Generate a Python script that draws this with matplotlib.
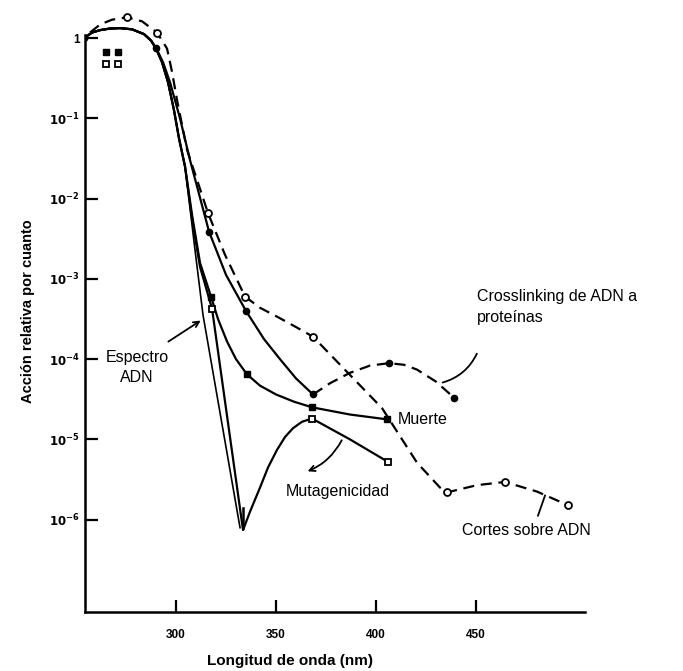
import numpy as np
import matplotlib.pyplot as plt

plt.rcParams['font.family'] = ['Liberation Sans', 'DejaVu Sans']

# Valores (x en nm, y como log10 de la acción relativa)
cortes_x = [257, 262, 268, 275.5, 283, 290.5, 295.5, 298, 300.5, 305.5, 316, 324.5, 334.5,
            342, 350.5, 360, 368.5, 403, 420.5, 432, 435.5, 450.5, 464.5, 480.5, 496]
cortes_y = [0.07, 0.17, 0.23, 0.26, 0.21, 0.07, -0.13, -0.42, -0.77, -1.39, -2.18, -2.7,
            -3.22, -3.36, -3.47, -3.6, -3.72, -4.61, -5.29, -5.6, -5.66, -5.57, -5.53,
            -5.65, -5.82]
cortes_mx = [275.5, 290.5, 316, 334.5, 368.5, 435.5, 464.5, 496]
cortes_my = [0.26, 0.07, -2.18, -3.22, -3.72, -5.66, -5.53, -5.82]

cross_x = [254, 258, 262, 267, 272, 278, 284, 287.5, 290, 293.5, 297, 302, 307, 316.5,
           325, 335, 344, 352, 360, 368.5]
cross_y = [0, 0.07, 0.1, 0.12, 0.125, 0.11, 0.05, -0.03, -0.12, -0.3, -0.55, -1.0, -1.52,
           -2.41, -2.95, -3.4, -3.75, -4.0, -4.24, -4.44]
cross_dx = [368.5, 377, 387, 397, 406.5, 414, 420.5, 430, 439]
cross_dy = [-4.44, -4.3, -4.17, -4.08, -4.05, -4.07, -4.13, -4.28, -4.48]
cross_mx = [254, 290, 316.5, 335, 368.5, 406.5, 439]
cross_my = [0, -0.12, -2.41, -3.4, -4.44, -4.05, -4.48]

top_x = [254, 258, 262, 267, 272, 278, 284, 287.5, 290, 293, 296, 299, 301.5, 304.5]
top_y = [0, 0.07, 0.1, 0.12, 0.125, 0.11, 0.05, -0.03, -0.13, -0.3, -0.55, -0.9, -1.25, -1.6]

muerte_x = top_x + [308, 312, 317.5, 321, 325.5, 330, 335.5, 342, 350, 359, 368, 387, 405.5]
muerte_y = top_y + [-2.2, -2.8, -3.22, -3.5, -3.78, -4.0, -4.19, -4.33, -4.44, -4.53,
                    -4.6, -4.69, -4.75]
muerte_mx = [265, 271, 317.5, 335.5, 368, 405.5]
muerte_my = [-0.17, -0.17, -3.22, -4.19, -4.6, -4.75]

muta_x = top_x + [308, 312, 318, 333.5, 337, 342, 346, 350.5, 354.5, 358.5, 363, 368, 387,
                  406]
muta_y = top_y + [-2.25, -2.85, -3.37, -6.13, -5.9, -5.6, -5.35, -5.13, -4.97, -4.86,
                  -4.78, -4.74, -5.0, -5.28]
muta_mx = [265, 271, 318, 368, 406]
muta_my = [-0.32, -0.32, -3.37, -4.74, -5.28]

espectro_x = top_x + [309.5, 313.5, 332]
espectro_y = top_y + [-2.64, -3.45, -6.1]

xticks = [300, 350, 400, 450]
yticks = [0, -1, -2, -3, -4, -5, -6]
ytick_labels = ['1', r'$\mathbf{10^{-1}}$', r'$\mathbf{10^{-2}}$', r'$\mathbf{10^{-3}}$',
                r'$\mathbf{10^{-4}}$', r'$\mathbf{10^{-5}}$', r'$\mathbf{10^{-6}}$']


def p(v):
    return 10.0 ** np.array(v)


fig = plt.figure(figsize=(6.83, 6.71), dpi=100)
ax = fig.add_axes([0.1245, 0.088, 0.732, 0.897])
ax.set_yscale('log')
ax.set_xlim(254.5, 504.5)
ax.set_ylim(10 ** -7.15, 10 ** 0.35)

lw = 1.6
dash = (0, (5, 3))
k = 'black'

ax.plot(espectro_x, p(espectro_y), color=k, lw=1.2)
ax.plot(muerte_x, p(muerte_y), color=k, lw=lw)
ax.plot(muerte_mx, p(muerte_my), 's', color=k, ms=5, ls='none')
ax.plot(muta_x, p(muta_y), color=k, lw=lw)
ax.plot(muta_mx, p(muta_my), 's', mfc='white', mec=k, mew=1.3, ms=5, ls='none')
ax.plot(cross_x, p(cross_y), color=k, lw=lw)
ax.plot(cross_dx, p(cross_dy), color=k, lw=lw, ls=dash)
ax.plot(cross_mx, p(cross_my), 'o', color=k, ms=4.5, ls='none')
ax.plot(cortes_x, p(cortes_y), color=k, lw=lw, ls=dash, clip_on=False)
ax.plot(cortes_mx, p(cortes_my), 'o', mfc='white', mec=k, mew=1.3, ms=5, ls='none',
        clip_on=False)

# marca vertical al pie del espectro
ax.plot([333.5, 333.5], p([-5.85, -6.1]), color=k, lw=1.8)

for s in ['top', 'right']:
    ax.spines[s].set_visible(False)
ax.spines['left'].set_bounds(10 ** -7.15, 10 ** 0.04)
ax.spines['left'].set_linewidth(1.8)
ax.spines['bottom'].set_linewidth(1.8)

ax.set_xticks(xticks)
ax.set_xticklabels([str(t) for t in xticks], fontsize=8.5, fontweight='bold')
ax.set_yticks(p(yticks))
ax.set_yticklabels(ytick_labels, fontsize=8.5, fontweight='bold')
ax.yaxis.set_minor_locator(plt.NullLocator())
ax.tick_params(axis='both', direction='in', length=9, width=1.6, pad=4)
ax.tick_params(axis='x', pad=12)

ax.set_xlabel('Longitud de onda (nm)', fontsize=11, fontweight='bold')
ax.set_ylabel('Acción relativa por cuanto', fontsize=10.5, fontweight='bold', labelpad=10)
ax.xaxis.set_label_coords(0.41, -0.07)

fs = 11.5
ax.text(450.5, 10 ** -3.35, 'Crosslinking de ADN a\nproteínas', fontsize=fs,
        ha='left', va='center', linespacing=1.5)
ax.annotate('', xy=(432, 10 ** -4.3), xytext=(451, 10 ** -3.9),
            arrowprops=dict(arrowstyle='-', color=k, lw=1.3,
                            connectionstyle='arc3,rad=-0.25'))
ax.text(280.5, 10 ** -4.1, 'Espectro\nADN', fontsize=fs, ha='center', va='center',
        linespacing=1.4)
ax.annotate('', xy=(313.5, 10 ** -3.5), xytext=(295, 10 ** -3.8),
            arrowprops=dict(arrowstyle='->', color=k, lw=1.3))
ax.text(411, 10 ** -4.75, 'Muerte', fontsize=fs, ha='left', va='center')
ax.text(381, 10 ** -5.65, 'Mutagenicidad', fontsize=fs, ha='center', va='center')
ax.annotate('', xy=(364.5, 10 ** -5.41), xytext=(383.5, 10 ** -4.98),
            arrowprops=dict(arrowstyle='->', color=k, lw=1.3,
                            connectionstyle='arc3,rad=-0.2'))
ax.text(475, 10 ** -6.14, 'Cortes sobre ADN', fontsize=fs, ha='center', va='center')
ax.plot([481, 484.5], p([-5.95, -5.7]), color=k, lw=1.3)

fig.savefig('out.png', dpi=100)
